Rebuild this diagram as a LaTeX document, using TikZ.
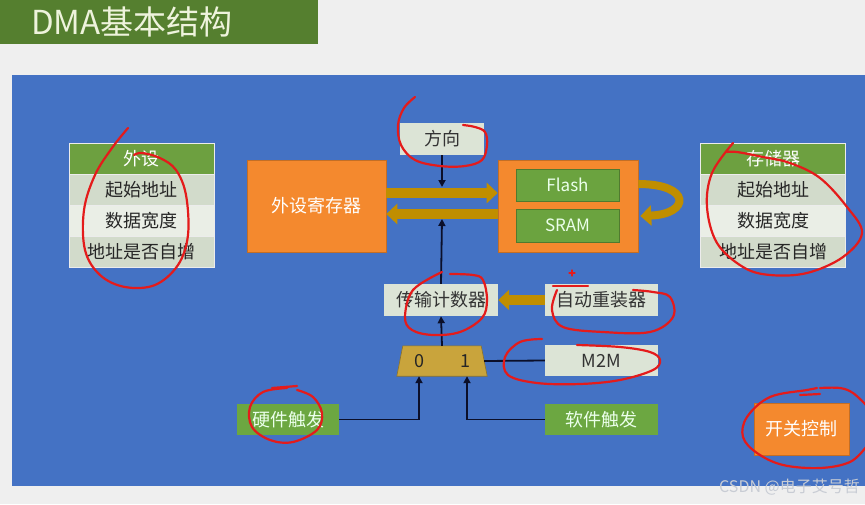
\documentclass[tikz,border=0pt]{standalone}
\usepackage{fontspec}
\setmainfont{Noto Sans CJK SC}
\usetikzlibrary{arrows.meta,calc}
\definecolor{bgc}{HTML}{EFEFEF}
\definecolor{titleg}{HTML}{557F2F}
\definecolor{titlet}{HTML}{EEF3DC}
\definecolor{panel}{HTML}{4472C4}
\definecolor{hdrg}{HTML}{6DA040}
\definecolor{rowd}{HTML}{D2DBCB}
\definecolor{rowl}{HTML}{EAEEE6}
\definecolor{orng}{HTML}{F4892E}
\definecolor{ingreen}{HTML}{6BA33F}
\definecolor{gold}{HTML}{C08E00}
\definecolor{muxc}{HTML}{C9A43C}
\definecolor{lbox}{HTML}{DCE4D6}
\definecolor{trig}{HTML}{6CA741}
\definecolor{wire}{HTML}{0B0F2A}
\definecolor{ink}{HTML}{E41B1B}
\definecolor{wmark}{HTML}{C8CCD4}
\begin{document}
\begin{tikzpicture}[x=1pt,y=-1pt,
  cell/.style={draw=white!85!gray, line width=0.8pt, minimum width=145pt, minimum height=31pt, inner sep=0pt, font=\fontsize{18}{20}\selectfont, text=black!85},
  hdr/.style={cell, fill=hdrg, text=white},
  rd/.style={cell, fill=rowd},
  rl/.style={cell, fill=rowl},
  obox/.style={fill=orng, draw=orng!80!black, line width=0.6pt, inner sep=0pt, text=white, font=\fontsize{18}{20}\selectfont},
  gbox/.style={fill=ingreen, draw=ingreen!75!black, line width=0.6pt, inner sep=0pt, text=white!92!green, font=\fontsize{17}{20}\selectfont, minimum width=103pt},
  lbx/.style={fill=lbox, draw=none, inner sep=0pt, text=black!80, font=\fontsize{18}{20}\selectfont, minimum height=32pt},
  tbox/.style={fill=trig, draw=none, inner sep=0pt, text=white!92!green, font=\fontsize{18}{20}\selectfont, minimum height=31pt},
  bus/.style={draw=gold, line width=10pt, -{Triangle[length=11pt,width=20pt]}},
  wirea/.style={draw=wire, line width=1.8pt, -{Triangle[length=7pt,width=7pt]}},
  wireb/.style={draw=wire, line width=1.8pt},
  redink/.style={draw=ink, line width=2.2pt, line cap=round, line join=round},
]
\useasboundingbox (0,0) rectangle (865,504);
\fill[bgc] (0,0) rectangle (865,504);
% title
\fill[titleg] (0,0) rectangle (318,44);
\node[anchor=west, text=titlet, font=\fontsize{33}{36}\selectfont, inner sep=0pt] (ttl) at (31,22) {DMA基本结构};
% panel
\fill[panel] (12,75) rectangle (865,486);

% left table
\node[hdr] (lh) at (141.5,158.5) {外设};
\node[rd]  (l1) at (141.5,189.5) {起始地址};
\node[rl]  (l2) at (141.5,220.5) {数据宽度};
\node[rd]  (l3) at (141.5,251.5) {地址是否自增};
% right table
\node[hdr] (rh) at (773,158.5) {存储器};
\node[rd]  (r1) at (773,189.5) {起始地址};
\node[rl]  (r2) at (773,220.5) {数据宽度};
\node[rd]  (r3) at (773,251.5) {地址是否自增};

% central blocks
\node[obox, minimum width=139pt, minimum height=92pt] (ext) at (316.5,206) {外设寄存器};
\node[obox, minimum width=140pt, minimum height=92pt] (mem) at (568,206) {};
\node[gbox, minimum height=32pt] (flash) at (567.5,185) {Flash};
\node[gbox, minimum height=33pt] (sram) at (567.5,225.5) {SRAM};
\node[lbx, minimum width=84pt] (dir) at (442,139) {方向};
\node[lbx, minimum width=114pt] (cnt) at (441,300) {传输计数器};
\node[lbx, minimum width=113pt] (rel) at (601.5,300) {自动重装器};
\node[lbx, minimum width=113pt, minimum height=31pt] (m2m) at (601.5,360.5) {M2M};
% multiplexer (trapezoid drawn on a named frame)
\node[draw=none, minimum width=90pt, minimum height=30pt, inner sep=0pt] (mux) at (442,361) {};
\filldraw[fill=muxc, draw=muxc!70!black, line width=0.6pt]
  (mux.south west) -- ($(mux.north west)+(6,0)$) -- ($(mux.north east)+(-6,0)$) -- (mux.south east) -- cycle;
\node[text=black!85, font=\fontsize{18}{20}\selectfont, inner sep=0pt] (m0) at (419,361) {0};
\node[text=black!85, font=\fontsize{18}{20}\selectfont, inner sep=0pt] (m1) at (465,361) {1};
\node[tbox, minimum width=102pt] (hw) at (288,419.5) {硬件触发};
\node[tbox, minimum width=113pt] (sw) at (601.5,419.5) {软件触发};
\node[obox, minimum width=95pt, minimum height=52pt] (sc) at (801.5,429) {开关控制};

% buses
\draw[bus] ($(ext.east)+(0,-13)$) -- ($(mem.west)+(0,-13)$);
\draw[bus] ($(mem.west)+(0,8)$) -- ($(ext.east)+(0,8)$);
\draw[bus] (rel.west) -- (cnt.east);
\draw[bus, line width=8pt] ($(mem.east)+(0,-22)$) .. controls (692,184) and (690,214) .. ($(mem.east)+(2,10)$);

% wires
\coordinate (busTop) at (442,187);
\coordinate (busBot) at (442,219);
\draw[wirea] (dir.south) -- (busTop);
\draw[wirea] (cnt.north) -- (busBot);
\draw[wirea] (mux.north) -- (cnt.south);
\draw[wireb] (m2m.west) -- ($(mux.east)+(-3,0)$);
\draw[wirea] (hw.east) -| ($(mux.south)+(-23,0)$);
\draw[wirea] (sw.west) -| ($(mux.south)+(25,0)$);

% red annotations
\draw[redink] plot[smooth, tension=0.6] coordinates {(128,128) (112,148) (95,175) (84,210) (85,250) (100,275) (125,287) (155,285) (178,265) (188,235) (186,195) (176,170) (160,158) (142,153) (134,155)};
\draw[redink] plot[smooth, tension=0.6] coordinates {(415,97) (404,108) (398,125) (401,145) (415,160) (440,166) (465,166) (482,160) (487,145) (485,132) (475,127) (463,125)};
\draw[redink] plot[smooth, tension=0.6] coordinates {(733,143) (712,173) (707,207) (717,243) (743,267) (770,275) (807,273) (843,257) (862,233) (847,207) (820,178) (790,163) (763,157) (737,152) (727,152)};
\draw[redink] plot[smooth, tension=0.6] coordinates {(442,272) (413,290) (405,317) (412,330) (433,335) (460,332) (482,318) (487,300) (483,280) (473,275) (450,274)};
\draw[redink] (553,286) -- (588,286);
\draw[redink] plot[smooth, tension=0.6] coordinates {(557,290) (552,310) (563,327) (603,332) (650,332) (673,317) (670,297) (653,292) (633,290)};
\draw[redink, line width=1.2pt] (569,273) -- (575,273) (572,270) -- (572,276);
\draw[redink] plot[smooth, tension=0.6] coordinates {(542,339) (520,342) (505,357) (508,375) (537,383) (580,384) (620,380) (653,370) (660,360) (650,352) (620,347) (577,345)};
\draw[redink] (272,388) -- (297,386);
\draw[redink] plot[smooth, tension=0.6] coordinates {(287,388) (263,392) (250,407) (252,427) (270,440) (293,442) (317,430) (322,413) (313,397) (297,390)};
\draw[redink] (800,395) -- (820,394);
\draw[redink] plot[smooth, tension=0.6] coordinates {(817,388) (807,390) (770,397) (747,417) (743,437) (757,453) (783,465) (820,468) (850,462) (866,447)};
\draw[redink] plot[smooth, tension=0.6] coordinates {(866,405) (853,393) (840,388) (820,388)};

% watermark
\node[anchor=east, text=wmark, font=\fontsize{16}{18}\selectfont, inner sep=0pt] (wm) at (860,487) {CSDN @电子艾号哲};
\end{tikzpicture}
\end{document}
